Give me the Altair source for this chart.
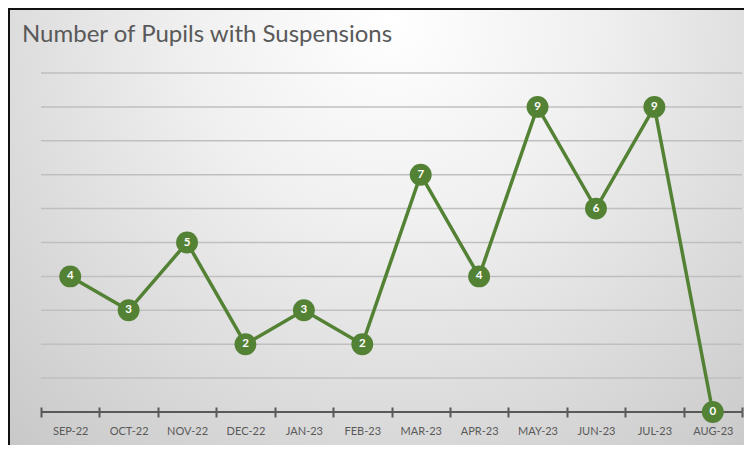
import altair as alt
import pandas as pd

months = ["SEP-22", "OCT-22", "NOV-22", "DEC-22", "JAN-23", "FEB-23",
          "MAR-23", "APR-23", "MAY-23", "JUN-23", "JUL-23", "AUG-23"]
pupils = [4, 3, 5, 2, 3, 2, 7, 4, 9, 6, 9, 0]
grid_values = [1, 2, 3, 4, 5, 6, 7, 8, 9, 10]
title_text = "Number of Pupils with Suspensions"

df = pd.DataFrame({"month": months, "pupils": pupils})
grid_df = pd.DataFrame({"v": grid_values})

W, H = 701, 339
PAD_L, PAD_T, PAD_R, PAD_B = 33, 65, 2, 33
GREEN = "#548235"
AXIS_GREY = "#595959"
FONT = "Lato"

xscale = alt.Scale(type="band", domain=months, paddingInner=0, paddingOuter=0)
yscale = alt.Scale(domain=[0, 10], nice=False, zero=True)

bg_grad = alt.RadialGradient(
    gradient="radial",
    stops=[alt.GradientStop(color="#ffffff", offset=0),
           alt.GradientStop(color="#f0f0f0", offset=0.35),
           alt.GradientStop(color="#c8c8c8", offset=1)],
    x1=0.52, y1=0.22, r1=0, x2=0.52, y2=0.22, r2=0.78,
)

one = alt.Data(values=[{}])
bg = alt.Chart(one).mark_rect(fill=bg_grad, strokeWidth=0).encode(
    x=alt.value(-PAD_L), x2=alt.value(W + PAD_R),
    y=alt.value(-PAD_T), y2=alt.value(H + PAD_B),
)
border_left = alt.Chart(one).mark_rule(color="#111111", strokeWidth=2).encode(
    x=alt.value(-PAD_L + 1), y=alt.value(-PAD_T), y2=alt.value(H + PAD_B),
)
border_top = alt.Chart(one).mark_rule(color="#111111", strokeWidth=2).encode(
    x=alt.value(-PAD_L), x2=alt.value(W + PAD_R), y=alt.value(-PAD_T + 1),
)
title_mark = alt.Chart(alt.Data(values=[{"t": title_text}])).mark_text(
    font=FONT, fontSize=24, color=AXIS_GREY, align="left", baseline="alphabetic"
).encode(x=alt.value(-19), y=alt.value(-31), text="t:N")

# horizontal gridlines, drawn as marks so that line and points sit above them
grid = alt.Chart(grid_df).mark_rule(color="#bfbfbf", strokeWidth=1.5).encode(
    x=alt.value(0), x2=alt.value(W), y=alt.Y("v:Q", scale=yscale, axis=None),
)
# x-axis baseline
baseline = alt.Chart(one).mark_rule(color=AXIS_GREY, strokeWidth=2).encode(
    x=alt.value(0), x2=alt.value(W), y=alt.Y(datum=0, scale=yscale, axis=None),
)

y_main = alt.Y("pupils:Q", scale=yscale, axis=None)

base = alt.Chart(df)

x_main = alt.X("month:N", scale=xscale, sort=months, title=None,
               axis=alt.Axis(orient="bottom", tickBand="extent", domain=False,
                             tickColor=AXIS_GREY, tickWidth=2, tickSize=5,
                             labelColor=AXIS_GREY, labelFont=FONT, labelFontSize=11,
                             labelPadding=8, labelAngle=0, grid=False, zindex=1))

line = base.mark_line(color=GREEN, strokeWidth=3.5).encode(x=x_main, y=y_main)

x_top = alt.X("month:N", scale=xscale, sort=months, title=None,
              axis=alt.Axis(orient="top", offset=-H, tickBand="extent", domain=False,
                            labels=False, tickColor=AXIS_GREY, tickWidth=2, tickSize=5,
                            grid=False, zindex=1))

pts = base.mark_circle(color=GREEN, opacity=1, size=480).encode(x=x_top, y=y_main)
labels = base.mark_text(color="white", font=FONT, fontSize=11.5, fontWeight="bold",
                        align="center", baseline="middle").encode(
    x=alt.X("month:N", scale=xscale, sort=months, axis=None),
    y=y_main, text="pupils:Q")

chart = alt.layer(bg, border_left, border_top, title_mark, grid, baseline,
                  line, pts, labels).resolve_axis(
    x="independent"
).properties(
    width=W, height=H,
    padding={"left": PAD_L, "top": PAD_T, "right": PAD_R, "bottom": PAD_B},
    autosize=alt.AutoSizeParams(type="none"),
).configure_view(stroke=None)

chart.save("out.html", embed_options={"renderer": "svg", "actions": False})
